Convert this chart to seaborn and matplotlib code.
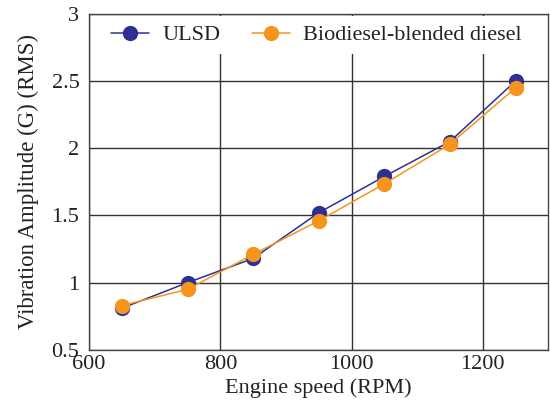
import matplotlib
matplotlib.use("Agg")
import matplotlib.pyplot as plt
import seaborn as sns
import pandas as pd

speed = [650, 750, 850, 950, 1050, 1150, 1250]
ulsd = [0.81, 1.00, 1.18, 1.52, 1.79, 2.05, 2.50]
bio = [0.83, 0.95, 1.21, 1.46, 1.735, 2.03, 2.45]
series_names = ["ULSD", "Biodiesel-blended diesel"]

df = pd.DataFrame({
    "speed": speed * 2,
    "amp": ulsd + bio,
    "fuel": [series_names[0]] * len(speed) + [series_names[1]] * len(speed),
})

sns.set_theme(style="white")
plt.rcParams['font.family'] = ['Liberation Serif', 'DejaVu Serif']

fig, ax = plt.subplots(figsize=(5.5, 4.18), dpi=100)
fig.subplots_adjust(left=0.162, right=0.997, top=0.967, bottom=0.163)

palette = {series_names[0]: "#2e3192", series_names[1]: "#f7941d"}
sns.lineplot(data=df, x="speed", y="amp", hue="fuel", palette=palette,
             marker="o", markersize=11, markeredgewidth=0, linewidth=1.1,
             ax=ax, zorder=3)

ax.set_xlim(600, 1300)
ax.set_ylim(0.5, 3)
ax.set_xticks([600, 800, 1000, 1200])
ax.set_yticks([0.5, 1, 1.5, 2, 2.5, 3])
ax.set_yticklabels(["0.5", "1", "1.5", "2", "2.5", "3"])
ax.grid(True, color="#333333", linewidth=1.0)
ax.set_axisbelow(True)
for s in ax.spines.values():
    s.set_color("#444444")
    s.set_linewidth(1.0)
ax.tick_params(axis="both", labelsize=16, colors="#222222", direction="in", length=0)
ax.tick_params(axis="y", pad=7)
ax.tick_params(axis="x", pad=4)
ax.set_xlabel("Engine speed (RPM)", fontsize=16, color="#222222", labelpad=3)
ax.set_ylabel("Vibration Amplitude (G) (RMS)", fontsize=16.5, color="#222222", labelpad=9)

leg = ax.legend(loc="upper center", ncol=2, fontsize=16, frameon=True,
                fancybox=False, edgecolor="none", facecolor="white", framealpha=1,
                borderaxespad=0.1, handlelength=1.7, columnspacing=1.45,
                handletextpad=0.6, bbox_to_anchor=(0.495, 1.0))
for t in leg.get_texts():
    t.set_color("#222222")

fig.savefig("out.png", dpi=100)
